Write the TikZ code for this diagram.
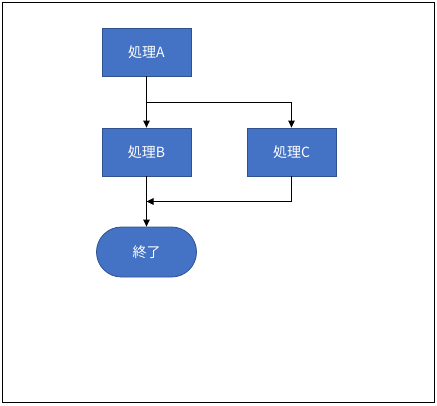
\documentclass[tikz,border=0pt]{standalone}
\usepackage{fontspec}
\setmainfont{Noto Sans CJK JP}
\usepackage{tikz}
\usetikzlibrary{arrows.meta,positioning,calc}
\definecolor{boxblue}{HTML}{4472C4}
\definecolor{boxedge}{HTML}{2F528F}

\begin{document}
\begin{tikzpicture}[x=1pt,y=1pt,->,>={Triangle[width=6.5pt,length=7pt]},node distance=100pt,line width=1pt]
\tikzstyle{process}=[draw=boxedge,fill=boxblue,text=white,line width=0.8pt,minimum width=89pt,minimum height=48pt,font=\fontsize{14}{16}\selectfont]
\tikzstyle{terminal}=[process,minimum width=100pt,minimum height=50pt,rounded corners=24.9pt]
\useasboundingbox (0,0) rectangle (437,-405);
\draw[-,line width=1.2pt] (2.5,-2.5) rectangle (434.8,-402.5);
\node[process] (A) at (146.5,-52) {処理A};
\node[process][below of=A](B){処理B};
\node[process][right of=B,node distance=145pt](C){処理C};
\node[terminal][below of=B](E){終了};
\coordinate (split) at ($(A.south)!0.5!(B.north)$);
\coordinate (merge) at ($(B.south)!0.5!(E.north)$);
\draw (A) -- (B);
\draw (split) -| (C);
\draw (B) -- (E);
\draw (C) |- (merge);
\end{tikzpicture}
\end{document}
